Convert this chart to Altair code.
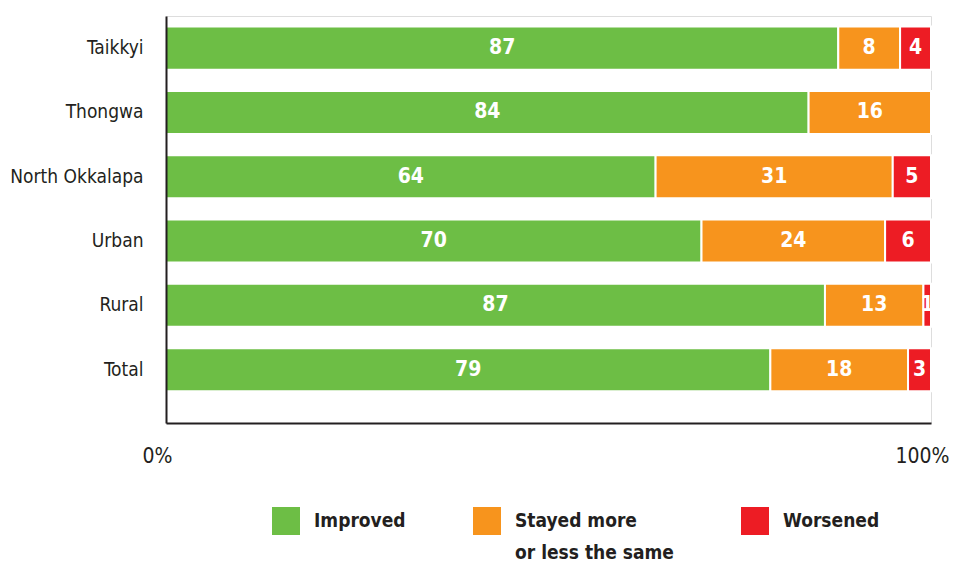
import altair as alt
import pandas as pd

categories = ["Taikkyi", "Thongwa", "North Okkalapa", "Urban", "Rural", "Total"]
improved = [87, 84, 64, 70, 87, 79]
stayed = [8, 16, 31, 24, 13, 18]
worsened = [4, 0, 5, 6, 1, 3]
series = ["Improved", "Stayed more or less the same", "Worsened"]
colors = ["#6dbe45", "#f7941d", "#ed1c24"]

rows = []
for i, c in enumerate(categories):
    for k, (s, vals) in enumerate(zip(series, [improved, stayed, worsened])):
        rows.append({"category": c, "series": s, "order": k, "value": vals[i]})
df = pd.DataFrame(rows)

FONT = "Liberation Sans Narrow, DejaVu Sans Condensed, sans-serif"
DARK = "#231f20"

base = (
    alt.Chart(df)
    .transform_filter("datum.value > 0")
    .transform_joinaggregate(total="sum(value)", groupby=["category"])
    .transform_window(
        cum="sum(value)", groupby=["category"], sort=[alt.SortField("order")], frame=[None, 0]
    )
    .transform_calculate(
        start="(datum.cum - datum.value) / datum.total",
        end="datum.cum / datum.total",
        mid="(datum.cum - datum.value / 2) / datum.total",
    )
)

y_enc = alt.Y(
    "category:N",
    sort=categories,
    title=None,
    scale=alt.Scale(paddingInner=0.331, paddingOuter=0.33, align=0.25),
    axis=alt.Axis(
        domain=True, domainColor=DARK, domainWidth=2, ticks=False, zindex=1,
        labelFont=FONT, labelFontSize=19, labelColor=DARK, labelPadding=23,
    ),
)

bars = base.mark_bar(stroke="white", strokeWidth=2).encode(
    x=alt.X(
        "start:Q",
        title=None,
        scale=alt.Scale(domain=[0, 1]),
        axis=alt.Axis(
            values=[0, 1], format="%", grid=False, ticks=False, domainColor=DARK,
            domainWidth=2, zindex=1, labelFont=FONT, labelFontSize=21, labelColor=DARK,
            labelPadding=22, labelOffset=-9, labelFlush=False,
        ),
    ),
    x2="end:Q",
    y=y_enc,
    color=alt.Color(
        "series:N",
        scale=alt.Scale(domain=series, range=colors),
        legend=alt.Legend(
            orient="none", legendX=106, legendY=491, direction="horizontal", title=None,
            symbolType="square", symbolSize=784, symbolStrokeWidth=0, symbolOpacity=1,
            labelFont=FONT, labelFontSize=19, labelFontWeight="bold", labelColor=DARK,
            labelOffset=14, columnPadding=67, padding=0, labelLimit=300,
            labelExpr="datum.label == 'Stayed more or less the same' ? ['Stayed more', 'or less the same'] : [datum.label, '']",
        ),
    ),
)

text = base.mark_text(
    color="white", font=FONT, fontSize=21, fontWeight="bold", baseline="middle"
).encode(x="mid:Q", y=y_enc, text="value:Q")

chart = (
    alt.layer(bars, text)
    .properties(
        width=765, height=407, autosize=alt.AutoSizeParams(type="none"),
        padding={"left": 158, "top": 8, "right": 20, "bottom": 139},
    )
    .configure_view(stroke=None)
    .configure(style={"guide-label": {"lineHeight": 32}})
)

chart.save("out.html", embed_options={"renderer": "svg", "actions": False})
